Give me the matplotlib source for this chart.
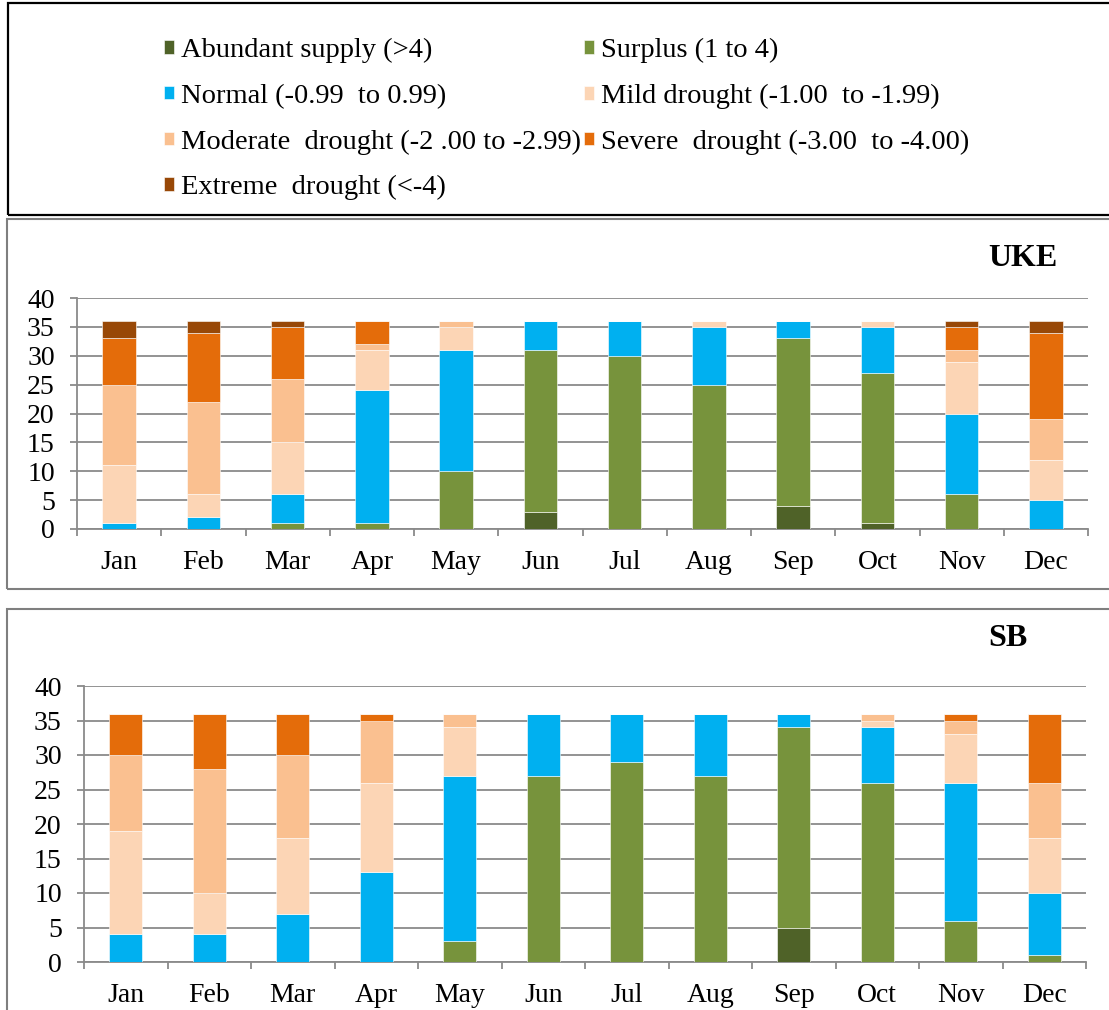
import numpy as np
import matplotlib.pyplot as plt
from matplotlib.patches import Rectangle

months = ["Jan", "Feb", "Mar", "Apr", "May", "Jun", "Jul", "Aug", "Sep", "Oct", "Nov", "Dec"]

labels = ["Abundant supply (>4)", "Surplus (1 to 4)", "Normal (-0.99  to 0.99)",
          "Mild drought (-1.00  to -1.99)", "Moderate  drought (-2 .00 to -2.99)",
          "Severe  drought (-3.00  to -4.00)", "Extreme  drought (<-4)"]
colors = ["#4f6228", "#77933c", "#00b0f0", "#fcd5b5", "#fac090", "#e46c0a", "#984807"]

# UKE counts per class, Jan..Dec
uke_abundant = [0, 0, 0, 0, 0, 3, 0, 0, 4, 1, 0, 0]
uke_surplus  = [0, 0, 1, 1, 10, 28, 30, 25, 29, 26, 6, 0]
uke_normal   = [1, 2, 5, 23, 21, 5, 6, 10, 3, 8, 14, 5]
uke_mild     = [10, 4, 9, 7, 4, 0, 0, 1, 0, 1, 9, 7]
uke_moderate = [14, 16, 11, 1, 1, 0, 0, 0, 0, 0, 2, 7]
uke_severe   = [8, 12, 9, 4, 0, 0, 0, 0, 0, 0, 4, 15]
uke_extreme  = [3, 2, 1, 0, 0, 0, 0, 0, 0, 0, 1, 2]

# SB counts per class, Jan..Dec
sb_abundant = [0, 0, 0, 0, 0, 0, 0, 0, 5, 0, 0, 0]
sb_surplus  = [0, 0, 0, 0, 3, 27, 29, 27, 29, 26, 6, 1]
sb_normal   = [4, 4, 7, 13, 24, 9, 7, 9, 2, 8, 20, 9]
sb_mild     = [15, 6, 11, 13, 7, 0, 0, 0, 0, 1, 7, 8]
sb_moderate = [11, 18, 12, 9, 2, 0, 0, 0, 0, 1, 2, 8]
sb_severe   = [6, 8, 6, 1, 0, 0, 0, 0, 0, 0, 1, 10]
sb_extreme  = [0, 0, 0, 0, 0, 0, 0, 0, 0, 0, 0, 0]

uke = [uke_abundant, uke_surplus, uke_normal, uke_mild, uke_moderate, uke_severe, uke_extreme]
sb = [sb_abundant, sb_surplus, sb_normal, sb_mild, sb_moderate, sb_severe, sb_extreme]

W, H = 1109, 1010
fig = plt.figure(figsize=(W / 100, H / 100), dpi=100)
serif = "Liberation Serif"
grey = "#8a8a8a"


def px_box(x0, y0, x1, y1, **kw):
    # rectangle given in pixel coords (top-left origin)
    r = Rectangle((x0 / W, 1 - y1 / H), (x1 - x0) / W, (y1 - y0) / H,
                  transform=fig.transFigure, fill=False, clip_on=False, **kw)
    fig.add_artist(r)


def panel(rect, data, title, title_xy):
    x0, y0, x1, y1 = rect
    ax = fig.add_axes([x0 / W, 1 - y1 / H, (x1 - x0) / W, (y1 - y0) / H])
    x = np.arange(len(months))
    bottom = np.zeros(len(months))
    bars = []
    for vals, c, lab in zip(data, colors, labels):
        b = ax.bar(x, vals, 0.4, bottom=bottom, color=c, edgecolor="white",
                   linewidth=0.4, label=lab, zorder=3)
        bars.append(b)
        bottom += np.array(vals)
    ax.set_xlim(-0.5, 11.5)
    ax.set_ylim(0, 40)
    ax.set_yticks(range(0, 41, 5))
    ax.yaxis.grid(True, color=grey, linewidth=1.3, zorder=0)
    ax.set_axisbelow(True)
    for s in ["top", "right"]:
        ax.spines[s].set_visible(False)
    for s in ["left", "bottom"]:
        ax.spines[s].set_color(grey)
        ax.spines[s].set_linewidth(1.3)
    ax.set_xticks(np.arange(-0.5, 12, 1))
    ax.set_xticklabels([])
    ax.set_xticks(x, minor=True)
    ax.set_xticklabels(months, minor=True, fontfamily=serif, fontsize=20)
    ax.tick_params(axis="x", which="major", length=5, width=1.3, color=grey)
    ax.tick_params(axis="x", which="minor", length=0, pad=15)
    ax.tick_params(axis="y", length=5, width=1.3, color=grey, pad=11)
    for t in ax.get_yticklabels():
        t.set_fontfamily(serif)
        t.set_fontsize(20)
    fig.text(title_xy[0] / W, 1 - title_xy[1] / H, title, fontfamily=serif,
             fontsize=23, fontweight="bold", ha="center", va="center")
    return bars


bars = panel((77, 298, 1088, 529), uke, "UKE", (1023, 258))
panel((84, 686, 1086, 962), sb, "SB", (1008, 638))

# frames
px_box(8, 3, 1120, 215, edgecolor="black", linewidth=1.6)
px_box(7, 219, 1120, 589, edgecolor="#7f7f7f", linewidth=1.5)
px_box(7, 609, 1120, 1030, edgecolor="#7f7f7f", linewidth=1.5)

# legend filled row-wise like the original (two columns)
order = [0, 2, 4, 6, 1, 3, 5]
handles = [bars[i] for i in order]
leg_labels = [labels[i] for i in order]
fig.legend(handles, leg_labels, ncol=2, loc="upper left",
           bbox_to_anchor=(150 / W, 1 - 24 / H), frameon=False,
           prop={"family": serif, "size": 20.5}, handlelength=0.35,
           handleheight=0.35, handletextpad=0.25, columnspacing=0.1,
           labelspacing=0.72, borderpad=0)

fig.savefig("out.png", dpi=100)
